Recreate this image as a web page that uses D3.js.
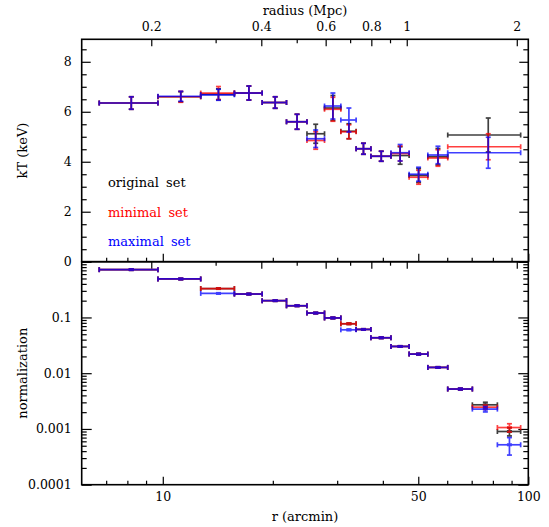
<!DOCTYPE html>
<head>
  <style>
    body { margin: 0; background: #fff; }
    text { font-family: "DejaVu Serif", serif; }
  </style>
<title>kT and normalization profiles</title>
</head>

<body>
  <script src="https://cdn.jsdelivr.net/npm/d3@7/dist/d3.min.js"></script>

  <script>
    // radial bins (arcmin) for the normalization panel
    var rLo  = [6.7, 9.7, 12.7, 15.7, 18.7, 21.8, 24.8, 27.7, 30.7, 33.8, 37.1, 42.1, 47.2, 53.1, 60.2, 70.3, 82.3];
    var rHi  = [9.7, 12.7, 15.7, 18.7, 21.8, 24.8, 27.7, 30.7, 33.8, 37.1, 42.1, 47.2, 53.1, 60.2, 70.3, 82.3, 95.3];
    var rMid = [8.2, 11.2, 14.2, 17.2, 20.3, 23.3, 26.2, 29.2, 32.3, 35.4, 39.6, 44.6, 50.1, 56.6, 65.2, 76.3, 88.8];

    // radial bins for the temperature panel (last three bins merged)
    var tLo  = [6.7, 9.7, 12.7, 15.7, 18.7, 21.8, 24.8, 27.7, 30.7, 33.8, 37.1, 42.1, 47.2, 53.1, 60.2];
    var tHi  = [9.7, 12.7, 15.7, 18.7, 21.8, 24.8, 27.7, 30.7, 33.8, 37.1, 42.1, 47.2, 53.1, 60.2, 95.3];
    var tMid = [8.2, 11.2, 14.2, 17.2, 20.3, 23.3, 26.2, 29.2, 32.3, 35.4, 39.6, 44.6, 50.1, 56.6, 77.7];

    // kT (keV) and errors
    var ktOrig    = [6.35, 6.6, 6.7, 6.75, 6.37, 5.6, 5.12, 6.15, 5.22, 4.52, 4.22, 4.25, 3.45, 4.2, 5.07];
    var ktOrigErr = [0.25, 0.2, 0.22, 0.28, 0.23, 0.3, 0.38, 0.5, 0.3, 0.22, 0.2, 0.35, 0.28, 0.33, 0.68];
    var ktMin     = [6.35, 6.6, 6.75, 6.75, 6.37, 5.6, 4.85, 6.1, 5.2, 4.52, 4.22, 4.33, 3.38, 4.15, 4.6];
    var ktMinErr  = [0.25, 0.22, 0.26, 0.28, 0.23, 0.3, 0.35, 0.48, 0.28, 0.22, 0.2, 0.3, 0.28, 0.33, 0.52];
    var ktMax     = [6.35, 6.62, 6.68, 6.75, 6.37, 5.6, 4.92, 6.23, 5.67, 4.52, 4.22, 4.36, 3.5, 4.27, 4.36];
    var ktMaxErr  = [0.25, 0.2, 0.22, 0.28, 0.23, 0.3, 0.35, 0.52, 0.48, 0.22, 0.2, 0.33, 0.28, 0.35, 0.62];

    // normalization and errors
    var nOrig    = [0.72, 0.49, 0.33, 0.263, 0.2, 0.162, 0.12, 0.098, 0.077, 0.061, 0.0432, 0.0302, 0.022, 0.0127, 0.0052, 0.00271, 0.0009];
    var nOrigErr = [0.01, 0.008, 0.006, 0.005, 0.003, 0.003, 0.002, 0.002, 0.0015, 0.0012, 0.0009, 0.0006, 0.0005, 0.0003, 0.00015, 0.0003, 0.00015];
    var nMin     = [0.72, 0.49, 0.33, 0.263, 0.2, 0.162, 0.12, 0.098, 0.077, 0.061, 0.0432, 0.0302, 0.022, 0.0127, 0.0052, 0.00246, 0.00106];
    var nMinErr  = [0.01, 0.008, 0.006, 0.005, 0.003, 0.003, 0.002, 0.002, 0.0015, 0.0012, 0.0009, 0.0006, 0.0005, 0.0003, 0.00015, 0.00022, 0.00018];
    var nMax     = [0.72, 0.49, 0.27, 0.263, 0.2, 0.162, 0.12, 0.098, 0.06, 0.061, 0.0432, 0.0302, 0.022, 0.0127, 0.0052, 0.00227, 0.00052];
    var nMaxErr  = [0.01, 0.008, 0.006, 0.005, 0.003, 0.003, 0.002, 0.002, 0.0015, 0.0012, 0.0009, 0.0006, 0.0005, 0.0003, 0.00015, 0.00025, 0.00018];

    var setNames  = ["original set", "minimal set", "maximal set"];
    var setColors = ["#000000", "#ff0000", "#0000ff"];

    // tick values
    var rMajor = [10, 50, 100];
    var rMinor = [7, 8, 9, 20, 30, 40, 60, 70, 80, 90];
    var mpcMajor = [0.2, 0.4, 0.6, 0.8, 1, 2];
    var mpcMinor = [0.3, 0.5, 0.7, 0.9];
    var ktMajor = [0, 2, 4, 6, 8];
    var ktMinor = [0.5, 1, 1.5, 2.5, 3, 3.5, 4.5, 5, 5.5, 6.5, 7, 7.5, 8.5];
    var nMajor = [1, 0.1, 0.01, 0.001, 0.0001];
    var nLabels = ["", "0.1", "0.01", "0.001", "0.0001"];
    var arcminPerMpc = 46.5;

    // layout
    var W = 549, H = 527;
    var left = 81.7, right = 528.3;
    var topY = 39.3, midY = 261.7, botY = 484.7;

    var x = d3.scaleLog().domain([6, 100]).range([left, right]);
    var xMpc = d3.scaleLog().domain([6 / arcminPerMpc, 100 / arcminPerMpc]).range([left, right]);
    var yKt = d3.scaleLinear().domain([0, 8.9]).range([midY, topY]);
    var yN = d3.scaleLog().domain([0.0001, 1]).range([botY, midY]);

    var nMinor = [];
    [0.0001, 0.001, 0.01, 0.1].forEach(function(d) {
      [2, 3, 4, 5, 6, 7, 8, 9].forEach(function(k) { nMinor.push(d * k); });
    });

    var svg = d3.select("body").append("svg")
      .attr("width", W)
      .attr("height", H);

    function styleAxis(g) {
      g.attr("font-family", "DejaVu Serif").attr("font-size", 12.5);
      g.select(".domain").remove();
      g.selectAll(".tick line").attr("stroke", "#000").attr("stroke-width", 1.2);
      g.selectAll(".tick text").attr("fill", "#000");
    }
    function noLabels(g) { g.selectAll(".tick text").remove(); }

    // --- x axes ---
    // bottom of lower panel: arcmin, labelled
    svg.append("g").attr("transform", "translate(0," + botY + ")")
      .call(d3.axisBottom(x).tickValues(rMajor).tickSize(-8).tickPadding(7).tickFormat(d3.format("d")))
      .call(styleAxis);
    svg.append("g").attr("transform", "translate(0," + botY + ")")
      .call(d3.axisBottom(x).tickValues(rMinor).tickSize(-4)).call(styleAxis).call(noLabels);
    // bottom of upper panel: arcmin ticks pointing up
    svg.append("g").attr("transform", "translate(0," + midY + ")")
      .call(d3.axisBottom(x).tickValues(rMajor).tickSize(-8)).call(styleAxis).call(noLabels);
    svg.append("g").attr("transform", "translate(0," + midY + ")")
      .call(d3.axisBottom(x).tickValues(rMinor).tickSize(-4)).call(styleAxis).call(noLabels);
    // top of upper panel: Mpc, labelled
    svg.append("g").attr("transform", "translate(0," + topY + ")")
      .call(d3.axisTop(xMpc).tickValues(mpcMajor).tickSize(-7).tickPadding(8).tickFormat(d3.format("")))
      .call(styleAxis);
    svg.append("g").attr("transform", "translate(0," + topY + ")")
      .call(d3.axisTop(xMpc).tickValues(mpcMinor).tickSize(-4)).call(styleAxis).call(noLabels);
    // top of lower panel: Mpc ticks pointing down
    svg.append("g").attr("transform", "translate(0," + midY + ")")
      .call(d3.axisTop(xMpc).tickValues(mpcMajor).tickSize(-7)).call(styleAxis).call(noLabels);
    svg.append("g").attr("transform", "translate(0," + midY + ")")
      .call(d3.axisTop(xMpc).tickValues(mpcMinor).tickSize(-4)).call(styleAxis).call(noLabels);

    // --- y axes ---
    svg.append("g").attr("transform", "translate(" + left + ",0)")
      .call(d3.axisLeft(yKt).tickValues(ktMajor).tickSize(-9).tickPadding(10).tickFormat(d3.format("d")))
      .call(styleAxis);
    svg.append("g").attr("transform", "translate(" + left + ",0)")
      .call(d3.axisLeft(yKt).tickValues(ktMinor).tickSize(-5)).call(styleAxis).call(noLabels);
    svg.append("g").attr("transform", "translate(" + right + ",0)")
      .call(d3.axisRight(yKt).tickValues(ktMajor).tickSize(-9)).call(styleAxis).call(noLabels);
    svg.append("g").attr("transform", "translate(" + right + ",0)")
      .call(d3.axisRight(yKt).tickValues(ktMinor).tickSize(-5)).call(styleAxis).call(noLabels);

    svg.append("g").attr("transform", "translate(" + left + ",0)")
      .call(d3.axisLeft(yN).tickValues(nMajor).tickSize(-10).tickPadding(10)
        .tickFormat(function(d, i) { return nLabels[i]; }))
      .call(styleAxis);
    svg.append("g").attr("transform", "translate(" + left + ",0)")
      .call(d3.axisLeft(yN).tickValues(nMinor).tickSize(-5)).call(styleAxis).call(noLabels);
    svg.append("g").attr("transform", "translate(" + right + ",0)")
      .call(d3.axisRight(yN).tickValues(nMajor).tickSize(-10)).call(styleAxis).call(noLabels);
    svg.append("g").attr("transform", "translate(" + right + ",0)")
      .call(d3.axisRight(yN).tickValues(nMinor).tickSize(-5)).call(styleAxis).call(noLabels);

    // frames
    svg.append("rect").attr("x", left).attr("y", topY).attr("width", right - left).attr("height", midY - topY)
      .attr("fill", "none").attr("stroke", "#000").attr("stroke-width", 1.6);
    svg.append("rect").attr("x", left).attr("y", midY).attr("width", right - left).attr("height", botY - midY)
      .attr("fill", "none").attr("stroke", "#000").attr("stroke-width", 1.6);

    // error bar drawing
    function drawSet(g, lo, hi, mid, val, err, yScale, color, marker) {
      var pts = mid.map(function(m, i) {
        return { lo: lo[i], hi: hi[i], mid: m, v: val[i], e: err[i] };
      });
      var grp = g.append("g").attr("stroke", color).attr("fill", color)
        .attr("stroke-width", 1.7).attr("opacity", 0.75);
      var cap = 2.5;
      pts.forEach(function(d) {
        var yc = yScale(d.v), y1 = yScale(d.v + d.e), y2 = yScale(Math.max(d.v - d.e, 1e-6));
        var x1 = x(d.lo), x2 = x(d.hi), xc = x(d.mid);
        grp.append("line").attr("x1", x1).attr("x2", x2).attr("y1", yc).attr("y2", yc);
        grp.append("line").attr("x1", x1).attr("x2", x1).attr("y1", yc - cap).attr("y2", yc + cap);
        grp.append("line").attr("x1", x2).attr("x2", x2).attr("y1", yc - cap).attr("y2", yc + cap);
        grp.append("line").attr("x1", xc).attr("x2", xc).attr("y1", y1).attr("y2", y2);
        grp.append("line").attr("x1", xc - cap).attr("x2", xc + cap).attr("y1", y1).attr("y2", y1);
        grp.append("line").attr("x1", xc - cap).attr("x2", xc + cap).attr("y1", y2).attr("y2", y2);
        if (marker) {
          grp.append("rect").attr("x", xc - 2.5).attr("y", yc - 1.5).attr("width", 5).attr("height", 3)
            .attr("stroke", "none");
        }
      });
    }

    var marks = svg.append("g").attr("id", "marks");
    var ktVals = [ktOrig, ktMin, ktMax], ktErrs = [ktOrigErr, ktMinErr, ktMaxErr];
    var nVals = [nOrig, nMin, nMax], nErrs = [nOrigErr, nMinErr, nMaxErr];
    for (var s = 0; s < 3; s++) {
      drawSet(marks, tLo, tHi, tMid, ktVals[s], ktErrs[s], yKt, setColors[s], false);
      drawSet(marks, rLo, rHi, rMid, nVals[s], nErrs[s], yN, setColors[s], true);
    }

    // legend
    var legendY = [186.7, 216.7, 246];
    setNames.forEach(function(name, i) {
      svg.append("text")
        .attr("x", 108)
        .attr("y", legendY[i])
        .attr("fill", setColors[i])
        .style("font-size", "13px")
        .style("word-spacing", "3px")
        .text(name);
    });

    // axis titles
    svg.append("text").attr("x", (left + right) / 2).attr("y", 15)
      .style("text-anchor", "middle").style("font-size", "13px").text("radius (Mpc)");
    svg.append("text").attr("x", (left + right) / 2).attr("y", 521)
      .style("text-anchor", "middle").style("font-size", "13px").text("r (arcmin)");
    svg.append("text").attr("transform", "translate(27," + ((topY + midY) / 2) + ") rotate(-90)")
      .style("text-anchor", "middle").style("font-size", "13px").text("kT (keV)");
    svg.append("text").attr("transform", "translate(27," + ((midY + botY) / 2) + ") rotate(-90)")
      .style("text-anchor", "middle").style("font-size", "13px").text("normalization");
  </script>
</body>
